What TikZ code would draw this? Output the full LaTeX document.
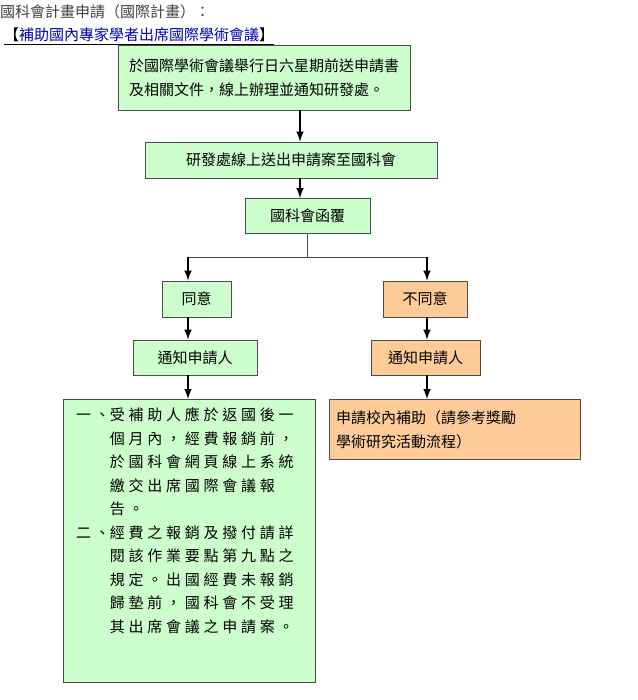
\documentclass[tikz,border=0pt]{standalone}
\usepackage{fontspec}
\setmainfont{Noto Sans CJK TC}
\usetikzlibrary{positioning}
\tikzset{>=latex}
\definecolor{clgreen}{RGB}{204,255,204}
\definecolor{clorange}{RGB}{255,204,153}
\definecolor{cledge}{gray}{.3}
\tikzset{
    box/.style={draw=cledge, line width=.8pt, fill=clgreen, inner sep=0pt, font=\fontsize{15}{24}\selectfont},
    nbox/.style={box, fill=clorange},
    flow/.style={->, line width=2.4pt},
}
\begin{document}
\begin{tikzpicture}[x=1pt, y=-1pt]
    \useasboundingbox(0, 0) rectangle (637, 700);
    \node[anchor=west, font=\fontsize{15}{16}\selectfont, text=black!75, inner sep=0pt](title) at(0, 12){國科會計畫申請（國際計畫）：};
    \node[anchor=west, font=\fontsize{15}{16}\selectfont, inner sep=0pt](sub) at(4, 35){【\textcolor{blue!70!black}{補助國內專家學者出席國際學術會議}】};
    \draw[line width=.8pt]([yshift=-2pt]sub.south west) -- ([yshift=-2pt]sub.south east);
    % main column
    \node[box, minimum width=292, minimum height=65, align=left](send) at(264, 77.5){於國際學術會議舉行日六星期前送申請書\\及相關文件，線上辦理並通知研發處。};
    \node[box, minimum width=292, minimum height=36](online) at(291, 160){研發處線上送出申請案至國科會};
    \node[box, minimum width=125, minimum height=35](reply) at(307.5, 216){國科會函覆};
    % two branches
    \node[box, minimum width=69, minimum height=36](yes) at(196.5, 299){同意};
    \node[nbox, minimum width=84, minimum height=36](no) at(425, 299){不同意};
    \node[box, minimum width=124, minimum height=35](tellyes) at(195, 357.5){通知申請人};
    \node[nbox, minimum width=109, minimum height=35](tellno) at(425.5, 357.5){通知申請人};
    \node[box, minimum width=252, minimum height=283, anchor=north](report) at(189, 399){};
    \node[anchor=north west, font=\fontsize{15}{23.5}\selectfont, inner sep=0pt](reporttxt) at(76, 404){%
        \addfontfeatures{LetterSpace=25}%
        \begin{tabular}{@{}l@{}l@{}}
        一、&受補助人應於返國後一\\
        &個月內，經費報銷前，\\
        &於國科會網頁線上系統\\
        &繳交出席國際會議報\\
        &告。\\
        二、&經費之報銷及撥付請詳\\
        &閱該作業要點第九點之\\
        &規定。出國經費未報銷\\
        &歸墊前，國科會不受理\\
        &其出席會議之申請案。
        \end{tabular}};
    \node[nbox, minimum width=251, minimum height=60, anchor=north, align=left, text width=237](campus) at(454.5, 399){申請校內補助（請參考獎勵\\學術研究活動流程）};
    % connectors
    \draw[flow](send.south -| 300, 0) -- (online.north -| 300, 0);
    \draw[flow](online.south -| 300, 0) -- (reply.north -| 300, 0);
    \coordinate(split) at(reply.south |- 0, 257);
    \draw[line width=.8pt, cledge](reply.south) -- (split);
    \draw[line width=.8pt, cledge](split -| 188, 0) -- (split -| 427, 0);
    \draw[flow](split -| 188, 0) -- (yes.north -| 188, 0);
    \draw[flow](split -| 427, 0) -- (no.north -| 427, 0);
    \draw[flow](yes.south -| 188, 0) -- (tellyes.north -| 188, 0);
    \draw[flow](no.south -| 427, 0) -- (tellno.north -| 427, 0);
    \draw[flow](tellyes.south -| 188, 0) -- (report.north -| 188, 0);
    \draw[flow](tellno.south -| 427, 0) -- (campus.north -| 427, 0);
\end{tikzpicture}
\end{document}
